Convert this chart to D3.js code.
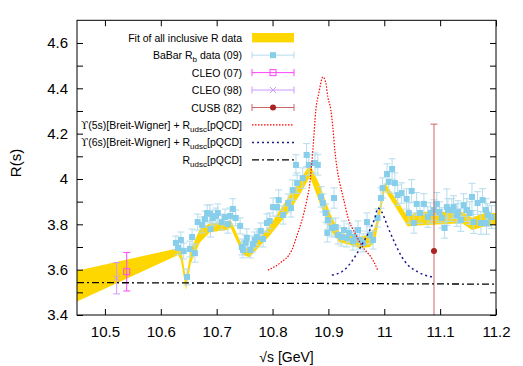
<!DOCTYPE html>
<meta charset="utf-8">
<style>
body { margin: 0; background: #fff; }
text { font-family: "Liberation Sans", Arial, sans-serif; }
</style>
<body>
<script src="https://cdn.jsdelivr.net/npm/d3@7"></script>
<script>
// fit band (all inclusive R data)
var fitE  = [10.45, 10.631, 10.636, 10.645, 10.654, 10.67, 10.688, 10.718, 10.725, 10.747, 10.759, 10.795, 10.831, 10.849, 10.867, 10.885, 10.903, 10.92, 10.938, 10.956, 10.974, 10.983, 11.001, 11.042, 11.06, 11.103, 11.139, 11.157, 11.18, 11.2];
var fitLo = [3.46, 3.665, 3.64, 3.51, 3.63, 3.72, 3.765, 3.775, 3.785, 3.665, 3.655, 3.75, 3.86, 3.93, 4.01, 3.89, 3.775, 3.72, 3.71, 3.695, 3.70, 3.72, 3.95, 3.79, 3.795, 3.80, 3.805, 3.775, 3.79, 3.80];
var fitHi = [3.595, 3.695, 3.70, 3.56, 3.69, 3.78, 3.805, 3.81, 3.82, 3.70, 3.69, 3.795, 3.93, 3.995, 4.065, 3.97, 3.85, 3.765, 3.75, 3.745, 3.755, 3.785, 3.985, 3.835, 3.855, 3.855, 3.855, 3.83, 3.85, 3.85];

// BaBar R_b data (09)
var babarE = [10.627, 10.631, 10.636, 10.641, 10.647, 10.652, 10.656, 10.661, 10.666, 10.674,
  10.679, 10.683, 10.688, 10.689, 10.693, 10.699, 10.702, 10.709, 10.715, 10.720,
  10.724, 10.729, 10.734, 10.742, 10.745, 10.747, 10.752, 10.754, 10.760, 10.765,
  10.768, 10.772, 10.779, 10.783, 10.790, 10.795, 10.801, 10.808, 10.811, 10.819,
  10.828, 10.833, 10.836, 10.842, 10.844, 10.854, 10.861, 10.865, 10.876, 10.881,
  10.887, 10.890, 10.895, 10.899, 10.898, 10.906, 10.910, 10.913, 10.917, 10.924,
  10.928, 10.933, 10.937, 10.944, 10.947, 10.953, 10.956, 10.962, 10.969, 10.974,
  10.980, 10.988, 10.994, 10.997, 11.005, 11.008, 11.014, 11.019, 11.024, 11.031,
  11.040, 11.044, 11.049, 11.053, 11.058, 11.064, 11.071, 11.078, 11.083, 11.089,
  11.094, 11.099, 11.103, 11.108, 11.112, 11.114, 11.121, 11.124, 11.130, 11.132,
  11.137, 11.142, 11.148, 11.153, 11.157, 11.160, 11.167, 11.173, 11.176, 11.182,
  11.183, 11.185, 11.192];
var babarR = [3.718, 3.696, 3.731, 3.682, 3.568, 3.691, 3.744, 3.673, 3.810, 3.797,
  3.823, 3.850, 3.846, 3.779, 3.828, 3.837, 3.850, 3.810, 3.832, 3.801,
  3.837, 3.868, 3.828, 3.793, 3.700, 3.687, 3.718, 3.740, 3.687, 3.713,
  3.731, 3.744, 3.771, 3.735, 3.806, 3.815, 3.876, 3.876, 3.907, 3.841,
  3.894, 3.872, 3.951, 4.062, 3.982, 4.004, 4.106, 4.062, 4.070, 4.062,
  3.921, 3.894, 3.850, 3.819, 3.762, 3.784, 3.916, 3.788, 3.753, 3.744,
  3.775, 3.740, 3.762, 3.726, 3.744, 3.775, 3.731, 3.718, 3.810, 3.753,
  3.731, 3.828, 3.916, 3.960, 4.022, 3.987, 4.044, 3.982, 3.929, 3.938,
  3.912, 3.850, 3.947, 3.806, 3.890, 3.850, 3.890, 3.832, 3.850, 3.863,
  3.890, 3.854, 3.828, 3.784, 3.876, 3.863, 3.863, 3.876, 3.841, 3.854,
  3.819, 3.885, 3.863, 3.850, 3.921, 3.810, 3.894, 3.806, 3.907, 3.863,
  3.806, 3.841, 3.832];
var babarErr = [0.03, 0.03, 0.035, 0.035, 0.035, 0.035, 0.035, 0.04, 0.035, 0.035,
  0.035, 0.035, 0.04, 0.035, 0.035, 0.035, 0.04, 0.035, 0.035, 0.04,
  0.035, 0.045, 0.035, 0.035, 0.035, 0.035, 0.035, 0.04, 0.035, 0.035,
  0.035, 0.035, 0.035, 0.035, 0.04, 0.035, 0.04, 0.04, 0.045, 0.04,
  0.04, 0.04, 0.045, 0.045, 0.045, 0.045, 0.05, 0.045, 0.045, 0.045,
  0.045, 0.04, 0.04, 0.04, 0.04, 0.04, 0.045, 0.04, 0.04, 0.04,
  0.04, 0.04, 0.04, 0.04, 0.04, 0.04, 0.04, 0.04, 0.04, 0.04,
  0.04, 0.04, 0.045, 0.045, 0.045, 0.045, 0.045, 0.045, 0.045, 0.045,
  0.045, 0.045, 0.05, 0.045, 0.05, 0.045, 0.045, 0.045, 0.045, 0.045,
  0.05, 0.045, 0.045, 0.045, 0.08, 0.05, 0.05, 0.05, 0.05, 0.05,
  0.05, 0.05, 0.05, 0.05, 0.06, 0.05, 0.05, 0.05, 0.05, 0.05,
  0.05, 0.05, 0.05];

// older measurements
var cleo07 = { E: 10.539, R: 3.591, err: 0.085 };
var cleo98 = { E: 10.521, R: 3.562, err: 0.069 };
var cusb82 = { E: 11.089, R: 3.682, err: 0.56 };

// Y(5s) Breit-Wigner + R_udsc
var bw5E = [10.7917, 10.8132, 10.8346, 10.8453, 10.8543, 10.8614, 10.8668, 10.8722, 10.8775, 10.8829, 10.8901, 10.8954, 10.899, 10.9044, 10.9079, 10.9115, 10.9151, 10.9204, 10.9276, 10.9348, 10.9473, 10.9616, 10.9795, 10.9884];
var bw5R = [3.598, 3.629, 3.687, 3.762, 3.832, 3.907, 3.982, 4.128, 4.304, 4.379, 4.450, 4.423, 4.362, 4.304, 4.229, 4.128, 4.053, 3.982, 3.907, 3.832, 3.762, 3.700, 3.643, 3.598];

// Y(6s) Breit-Wigner + R_udsc
var bw6E = [10.9062, 10.9259, 10.9438, 10.9617, 10.9742, 10.9832, 10.9885, 10.9957, 11.0064, 11.0189, 11.0314, 11.0421, 11.06, 11.0725, 11.0869];
var bw6R = [3.576, 3.594, 3.643, 3.718, 3.775, 3.828, 3.872, 3.854, 3.788, 3.718, 3.656, 3.621, 3.590, 3.576, 3.568];

// R_udsc pQCD
var qcdE = [10.45, 10.8, 11.2];
var qcdR = [3.543, 3.540, 3.536];

var xTicks = [10.5, 10.6, 10.7, 10.8, 10.9, 11, 11.1, 11.2];
var xLabels = ["10.5", "10.6", "10.7", "10.8", "10.9", "11", "11.1", "11.2"];
var yTicks = [3.4, 3.6, 3.8, 4, 4.2, 4.4, 4.6];
var yLabels = ["3.4", "3.6", "3.8", "4", "4.2", "4.4", "4.6"];
var yMinor = [3.5, 3.7, 3.9, 4.1, 4.3, 4.5];

var width = 523, height = 366;
var mLeft = 77, mRight = 496, mTop = 20.3, mBottom = 315;

var x = d3.scaleLinear().domain([10.45, 11.2]).range([mLeft, mRight]);
var y = d3.scaleLinear().domain([3.4, 4.7]).range([mBottom, mTop]);

var svg = d3.select("body").append("svg")
    .attr("width", width)
    .attr("height", height);

svg.append("clipPath").attr("id", "plot")
  .append("rect")
    .attr("x", mLeft).attr("y", mTop)
    .attr("width", mRight - mLeft).attr("height", mBottom - mTop);

var plot = svg.append("g").attr("clip-path", "url(#plot)");

// band
var band = fitE.map(function(e, i) { return { e: e, lo: fitLo[i], hi: fitHi[i] }; });
plot.append("path")
    .datum(band)
    .attr("fill", "#ffd700")
    .attr("d", d3.area()
      .x(function(d) { return x(d.e); })
      .y0(function(d) { return y(d.lo); })
      .y1(function(d) { return y(d.hi); }));

function errorBar(g, e, r, err, color, cap) {
  g.append("line")
      .attr("x1", x(e)).attr("x2", x(e))
      .attr("y1", y(r - err)).attr("y2", y(r + err))
      .attr("stroke", color);
  [r - err, r + err].forEach(function(v) {
    g.append("line")
        .attr("x1", x(e) - cap).attr("x2", x(e) + cap)
        .attr("y1", y(v)).attr("y2", y(v))
        .attr("stroke", color);
  });
}

// BaBar
var babar = plot.append("g");
babarE.forEach(function(e, i) {
  errorBar(babar, e, babarR[i], babarErr[i], "#b4dcec", 3.5);
});
babarE.forEach(function(e, i) {
  babar.append("rect")
      .attr("x", x(e) - 3).attr("y", y(babarR[i]) - 3)
      .attr("width", 6).attr("height", 6)
      .attr("fill", "#87ceeb");
});

// CLEO 07
errorBar(plot, cleo07.E, cleo07.R, cleo07.err, "#ff44ff", 3.5);
plot.append("rect")
    .attr("x", x(cleo07.E) - 3).attr("y", y(cleo07.R) - 3)
    .attr("width", 6).attr("height", 6)
    .attr("fill", "none").attr("stroke", "#ff44ff");

// CLEO 98
errorBar(plot, cleo98.E, cleo98.R, cleo98.err, "#cc99ff", 3.5);
plot.append("path")
    .attr("d", "M-3,-3L3,3M-3,3L3,-3")
    .attr("transform", "translate(" + x(cleo98.E) + "," + y(cleo98.R) + ")")
    .attr("stroke", "#cc99ff");

// CUSB 82
errorBar(plot, cusb82.E, cusb82.R, cusb82.err, "#cc6666", 3.5);
plot.append("circle")
    .attr("cx", x(cusb82.E)).attr("cy", y(cusb82.R)).attr("r", 3)
    .attr("fill", "#aa2222");

var line = d3.line()
    .x(function(d) { return x(d[0]); })
    .y(function(d) { return y(d[1]); })
    .curve(d3.curveMonotoneX);

plot.append("path")
    .datum(d3.zip(bw5E, bw5R))
    .attr("fill", "none").attr("stroke", "#ff0000")
    .attr("stroke-width", 1.2).attr("stroke-dasharray", "1.5,1.5")
    .attr("d", line);

plot.append("path")
    .datum(d3.zip(bw6E, bw6R))
    .attr("fill", "none").attr("stroke", "#1a1a8c")
    .attr("stroke-width", 1.5).attr("stroke-dasharray", "2,3")
    .attr("d", line);

plot.append("path")
    .datum(d3.zip(qcdE, qcdR))
    .attr("fill", "none").attr("stroke", "#000")
    .attr("stroke-width", 1.3).attr("stroke-dasharray", "7,3,2,3")
    .attr("d", d3.line().x(function(d) { return x(d[0]); }).y(function(d) { return y(d[1]); }));

// axes, gnuplot style: ticks inward on all sides
var axB = svg.append("g").attr("transform", "translate(0," + mBottom + ")")
    .call(d3.axisBottom(x).tickValues(xTicks).tickSize(-6).tickPadding(11)
      .tickFormat(function(d, i) { return xLabels[i]; }));
var axT = svg.append("g").attr("transform", "translate(0," + mTop + ")")
    .call(d3.axisTop(x).tickValues(xTicks).tickSize(-6).tickFormat(""));
var axL = svg.append("g").attr("transform", "translate(" + mLeft + ",0)")
    .call(d3.axisLeft(y).tickValues(yTicks.concat(yMinor)).tickSize(-6).tickPadding(9)
      .tickFormat(function(d, i) { return i < yLabels.length ? yLabels[i] : ""; }));
var axR = svg.append("g").attr("transform", "translate(" + mRight + ",0)")
    .call(d3.axisRight(y).tickValues(yTicks.concat(yMinor)).tickSize(-6).tickFormat(""));

[axB, axT, axL, axR].forEach(function(a) {
  a.select(".domain").remove();
  a.selectAll("text").style("font-size", "15px").attr("fill", "#000");
});

svg.append("rect")
    .attr("x", mLeft).attr("y", mTop)
    .attr("width", mRight - mLeft).attr("height", mBottom - mTop)
    .attr("fill", "none").attr("stroke", "#000");

svg.append("text")
    .attr("x", (mLeft + mRight) / 2).attr("y", 362)
    .attr("text-anchor", "middle").style("font-size", "14px")
    .text("√s [GeV]");

svg.append("text")
    .attr("transform", "translate(21,163) rotate(-90)")
    .attr("text-anchor", "middle").style("font-size", "15px")
    .text("R(s)");

// legend
var lx = 242, s0 = 252, s1 = 294, row0 = 37.7, dRow = 17.45;
var leg = svg.append("g").style("font-size", "10.5px");

function label(i) {
  return leg.append("text")
      .attr("x", lx).attr("y", row0 + i * dRow + 4)
      .attr("text-anchor", "end");
}
function sampleBar(i, color) {
  var cy = row0 + i * dRow;
  leg.append("line").attr("x1", s0).attr("x2", s1).attr("y1", cy).attr("y2", cy).attr("stroke", color);
  [s0, s1].forEach(function(sx) {
    leg.append("line").attr("x1", sx).attr("x2", sx).attr("y1", cy - 3.5).attr("y2", cy + 3.5).attr("stroke", color);
  });
  return cy;
}
function udsc(t) {
  t.append("tspan").text("R");
  t.append("tspan").attr("dy", 3).style("font-size", "8px").text("udsc");
  t.append("tspan").attr("dy", -3).text("[pQCD]");
}

label(0).text("Fit of all inclusive R data");
leg.append("rect").attr("x", s0).attr("y", row0 - 4.7).attr("width", s1 - s0).attr("height", 9.4).attr("fill", "#ffd700");

var t1 = label(1);
t1.append("tspan").text("BaBar R");
t1.append("tspan").attr("dy", 3).style("font-size", "8px").text("b");
t1.append("tspan").attr("dy", -3).text(" data (09)");
var c1 = sampleBar(1, "#b4dcec");
leg.append("rect").attr("x", 273 - 3).attr("y", c1 - 3).attr("width", 6).attr("height", 6).attr("fill", "#87ceeb");

label(2).text("CLEO (07)");
var c2 = sampleBar(2, "#ff44ff");
leg.append("rect").attr("x", 273 - 3).attr("y", c2 - 3).attr("width", 6).attr("height", 6).attr("fill", "none").attr("stroke", "#ff44ff");

label(3).text("CLEO (98)");
var c3 = sampleBar(3, "#cc99ff");
leg.append("path").attr("d", "M-3,-3L3,3M-3,3L3,-3").attr("transform", "translate(273," + c3 + ")").attr("stroke", "#cc99ff");

label(4).text("CUSB (82)");
var c4 = sampleBar(4, "#cc6666");
leg.append("circle").attr("cx", 273).attr("cy", c4).attr("r", 3).attr("fill", "#aa2222");

[["5s", "#ff0000", "1.5,1.5", 1.2], ["6s", "#1a1a8c", "2,3", 1.5]].forEach(function(d, k) {
  var t = label(5 + k);
  t.append("tspan").style("font-family", "'DejaVu Serif', serif").text("ϒ");
  t.append("tspan").text("(" + d[0] + ")[Breit-Wigner] + ");
  udsc(t);
  var cy = row0 + (5 + k) * dRow;
  leg.append("line").attr("x1", s0).attr("x2", s1).attr("y1", cy).attr("y2", cy)
      .attr("stroke", d[1]).attr("stroke-width", d[3]).attr("stroke-dasharray", d[2]);
});

udsc(label(7));
var c7 = row0 + 7 * dRow;
leg.append("line").attr("x1", s0).attr("x2", s1).attr("y1", c7).attr("y2", c7)
    .attr("stroke", "#000").attr("stroke-width", 1.3).attr("stroke-dasharray", "7,3,2,3");
</script>
</body>
